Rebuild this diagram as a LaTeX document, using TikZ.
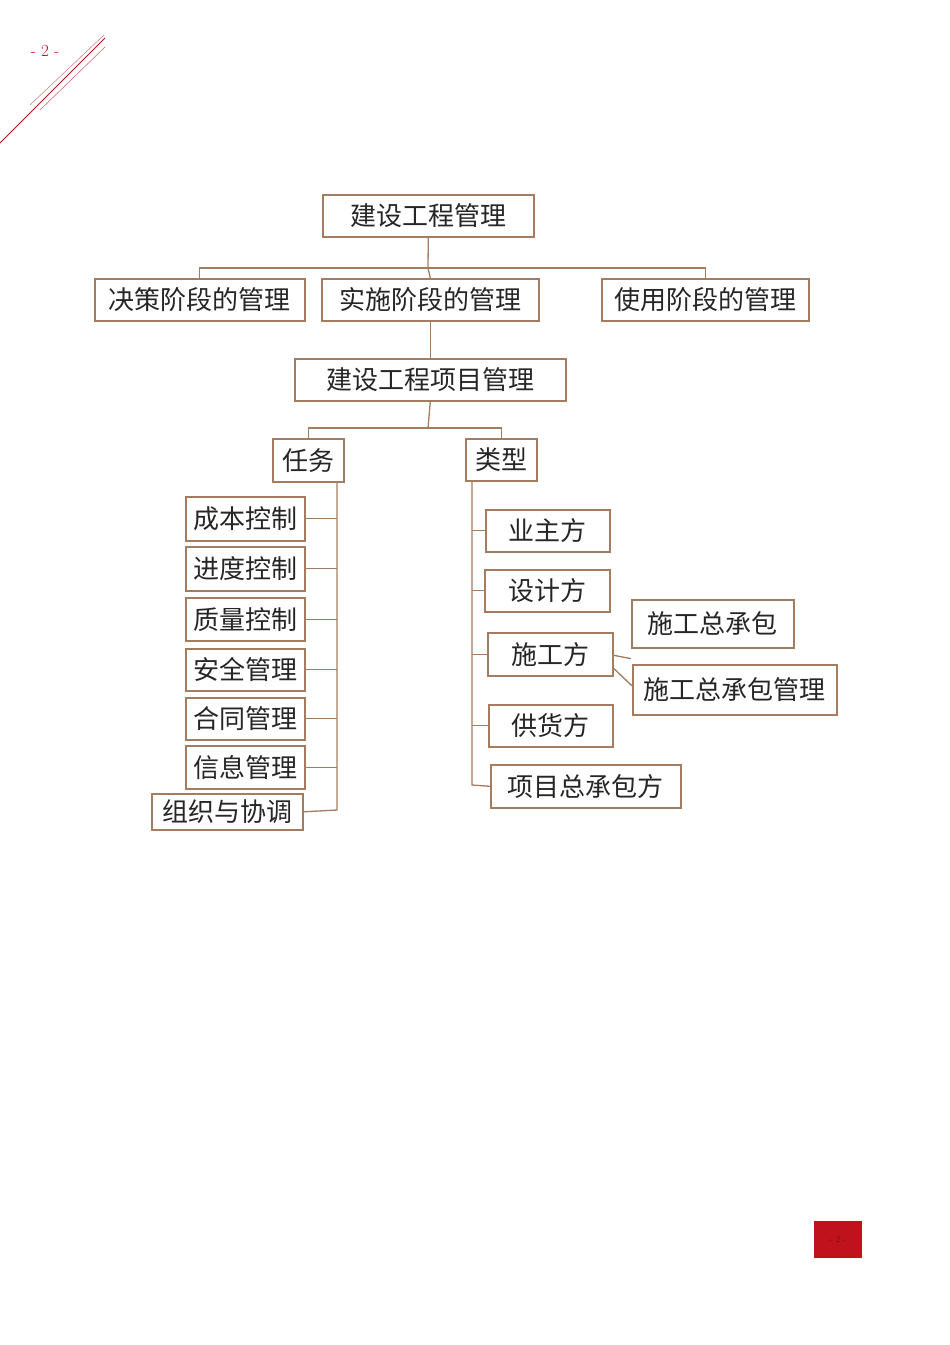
\documentclass[tikz,border=0pt]{standalone}
\usepackage{fontspec}
\newfontfamily\cjk{Noto Sans CJK SC}
\definecolor{bb}{HTML}{A47C60}
\definecolor{rd}{HTML}{C0121C}
\begin{document}
\begin{tikzpicture}[x=1pt,y=-1pt,
 bx/.style={draw=bb,line width=1.6pt,fill=white,font=\cjk\fontsize{26}{28}\selectfont,text=black!85,inner sep=0pt},
 ln/.style={draw=bb,line width=1.3pt}]
\useasboundingbox (0,0) rectangle (950,1345);
\newcommand\bxn[6]{\node[bx,minimum width=#4-#2,minimum height=#5-#3,anchor=north west] (#1) at (#2,#3) {#6};}
\bxn{a}{322}{194}{533}{236}{建设工程管理}
\bxn{b1}{94}{278}{304}{320}{决策阶段的管理}
\bxn{b2}{321}{278}{538}{320}{实施阶段的管理}
\bxn{b3}{601}{278}{808}{320}{使用阶段的管理}
\bxn{c}{294}{358}{565}{400}{建设工程项目管理}
\bxn{d1}{272}{438}{343}{481}{任务}
\bxn{d2}{465}{438}{536}{480}{类型}
\bxn{t1}{185}{496}{304}{540}{成本控制}
\bxn{t2}{185}{546}{304}{590}{进度控制}
\bxn{t3}{185}{597}{304}{640}{质量控制}
\bxn{t4}{185}{648}{304}{690}{安全管理}
\bxn{t5}{185}{697}{304}{739}{合同管理}
\bxn{t6}{185}{745}{304}{788}{信息管理}
\bxn{t7}{151}{793}{302}{829}{组织与协调}
\bxn{y1}{485}{509}{609}{551}{业主方}
\bxn{y2}{484}{569}{609}{611}{设计方}
\bxn{y3}{487}{632}{612}{675}{施工方}
\bxn{s1}{631}{599}{793}{647}{施工总承包}
\bxn{s2}{632}{664}{836}{714}{施工总承包管理}
\bxn{y4}{488}{704}{612}{746}{供货方}
\bxn{y5}{490}{764}{680}{807}{项目总承包方}
% connectors
\draw[ln] (a.south) -- (428,268);
\draw[ln] (b1.north) |- (428,268) -| (b3.north);
\draw[ln] (b2.north) -- (428,268);
\draw[ln] (b2.south) -- (c.north);
\draw[ln] (c.south) -- (428,428);
\draw[ln] (d1.north) |- (428,428) -| (d2.north);
\coordinate (tt) at (337,481);
\draw[ln] (tt) -- (337,810) -- (t7.east);
\foreach \n in {t1,t2,t3,t4,t5,t6} \draw[ln] (\n.east) -- (\n.east -| tt);
\coordinate (yy) at (472,480);
\draw[ln] (yy) -- (472,785) -- (y5.west);
\foreach \n in {y1,y2,y3,y4} \draw[ln] (\n.west) -- (\n.west -| yy);
\draw[ln] ([yshift=-1]y3.east) -- ([yshift=-10]s1.south west);
\draw[ln] ([yshift=-14]y3.east) -- ([yshift=4]s2.west);
% decorations
\node[text=rd,font=\fontsize{17}{18}\selectfont] (pn) at (45,51) {- 2 -};
\draw[rd,line width=0.8pt] (0,143) -- (105,38);
\draw[rd!60,line width=0.5pt] (30,105) -- (104,35);
\draw[rd!70,line width=0.5pt] (40,110) -- (105,47);
\node[fill=rd,minimum width=48,minimum height=37,inner sep=0pt,text=rd!60!black,font=\fontsize{9}{10}\selectfont] (pb) at (838,1239.5) {- 2 -};
\end{tikzpicture}
\end{document}
